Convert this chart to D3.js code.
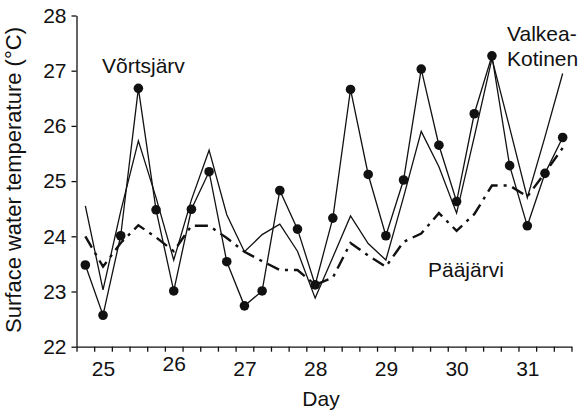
<!DOCTYPE html>
<html>
<head>
<meta charset="utf-8">
<script src="https://cdn.jsdelivr.net/npm/d3@7"></script>
<style>
  body { margin: 0; background: #fff; }
  svg text { font-family: "Liberation Sans", Arial, sans-serif; fill: #111; }
  .axis path, .axis line { stroke: #111; stroke-width: 1.3; }
</style>
</head>
<body>
<div id="chart-area"></div>
<script>
// 1. Data (day, 6-hourly readings)
var days = [24.75, 25, 25.25, 25.5, 25.75, 26, 26.25, 26.5, 26.75, 27, 27.25, 27.5, 27.75,
  28, 28.25, 28.5, 28.75, 29, 29.25, 29.5, 29.75, 30, 30.25, 30.5, 30.75, 31, 31.25, 31.5];

var vortsjarv = [23.48, 22.57, 24.01, 26.68, 24.48, 23.01, 24.49, 25.17, 23.54, 22.74, 23.01, 24.83, 24.13,
  23.12, 24.33, 26.66, 25.12, 24.01, 25.02, 27.03, 25.65, 24.63, 26.22, 27.27, 25.28, 24.19, 25.14, 25.79];

var valkeaKotinen = [24.55, 23.03, 24.45, 25.73, 24.7, 23.57, 24.66, 25.56, 24.39, 23.72, 24.03, 24.22, 23.73,
  22.88, 23.62, 24.37, 23.87, 23.57, 24.71, 25.9, 25.26, 24.42, 25.8, 27.22, 25.97, 24.7, 25.8, 26.95];

var paajarvi = [24.0, 23.45, 23.88, 24.2, 23.98, 23.73, 24.19, 24.19, 23.97, 23.72, 23.55, 23.39, 23.39,
  23.12, 23.25, 23.88, 23.65, 23.45, 23.9, 24.05, 24.42, 24.1, 24.4, 24.92, 24.92, 24.72, 25.15, 25.6];

var dayLabels = [25, 26, 27, 28, 29, 30, 31];
var tempTicks = [22, 23, 24, 25, 26, 27, 28];

var font_size = "21px";

// 2. SVG
var svg_width = 582, svg_height = 415;
var svg = d3.select("#chart-area").append("svg")
    .attr("width", svg_width)
    .attr("height", svg_height);

// 3. Scales
var x_scaling = d3.scaleLinear()
    .domain([24.625, 31.625])
    .range([76.5, 571.5]);

var y_scaling = d3.scaleLinear()
    .domain([22, 28])
    .range([346.7, 15.5]);

// 4. Axes
// minor ticks every 6 h
var x_axis_call = d3.axisBottom(x_scaling)
    .tickValues(d3.range(29).map(function (k) { return 24.625 + k * 0.25; }))
    .tickSize(5)
    .tickSizeOuter(0)
    .tickFormat("");

svg.append("g")
    .attr("class", "axis x_axis")
    .attr("transform", "translate(0," + y_scaling(22) + ")")
    .call(x_axis_call);

// day labels sit between the ticks
var x_label_call = d3.axisBottom(x_scaling)
    .tickValues(dayLabels)
    .tickSize(0)
    .tickPadding(14)
    .tickFormat(d3.format("d"));

var xl = svg.append("g")
    .attr("transform", "translate(0," + y_scaling(22) + ")")
    .call(x_label_call);
xl.select(".domain").remove();
xl.selectAll("text")
    .attr("font-size", font_size)
    .attr("font-family", null)
    .attr("transform", function (d) { return d == 26 ? "translate(0,-5)" : null; });

var y_axis_call = d3.axisLeft(y_scaling)
    .tickValues(tempTicks)
    .tickSize(5)
    .tickSizeOuter(0)
    .tickPadding(5)
    .tickFormat(d3.format("d"));

var ya = svg.append("g")
    .attr("class", "axis y_axis")
    .attr("transform", "translate(" + x_scaling.range()[0] + ",0)")
    .call(y_axis_call);
ya.selectAll("text")
    .attr("font-size", font_size)
    .attr("font-family", null);

// 5. Axis titles
svg.append("text")
    .attr("x", 321)
    .attr("y", 406)
    .attr("font-size", font_size)
    .attr("text-anchor", "middle")
    .text("Day");

svg.append("text")
    .attr("transform", "rotate(-90)")
    .attr("x", -180)
    .attr("y", 21)
    .attr("font-size", "22px")
    .attr("text-anchor", "middle")
    .text("Surface water temperature (°C)");

// 6. Lines
var line = function (values) {
    return d3.line()
        .x(function (d, i) { return x_scaling(days[i]); })
        .y(function (d) { return y_scaling(d); })(values);
};

svg.append("path")
    .attr("d", line(paajarvi))
    .attr("fill", "none")
    .attr("stroke", "#111")
    .attr("stroke-width", 2.4)
    .attr("stroke-dasharray", "13,6,3,6");

svg.append("path")
    .attr("d", line(valkeaKotinen))
    .attr("fill", "none")
    .attr("stroke", "#111")
    .attr("stroke-width", 1.3);

svg.append("path")
    .attr("d", line(vortsjarv))
    .attr("fill", "none")
    .attr("stroke", "#111")
    .attr("stroke-width", 1.3);

svg.selectAll("circle.vo")
    .data(vortsjarv)
    .enter()
    .append("circle")
    .attr("class", "vo")
    .attr("cx", function (d, i) { return x_scaling(days[i]); })
    .attr("cy", function (d) { return y_scaling(d); })
    .attr("r", 4.8)
    .attr("fill", "#111");

// 7. Lake labels
svg.append("text")
    .attr("x", 102)
    .attr("y", 73)
    .attr("font-size", font_size)
    .text("Võrtsjärv");

svg.append("text")
    .attr("x", 507)
    .attr("y", 41)
    .attr("font-size", font_size)
    .text("Valkea-");

svg.append("text")
    .attr("x", 507)
    .attr("y", 66)
    .attr("font-size", font_size)
    .text("Kotinen");

svg.append("text")
    .attr("x", 428)
    .attr("y", 277)
    .attr("font-size", font_size)
    .text("Pääjärvi");
</script>
</body>
</html>
